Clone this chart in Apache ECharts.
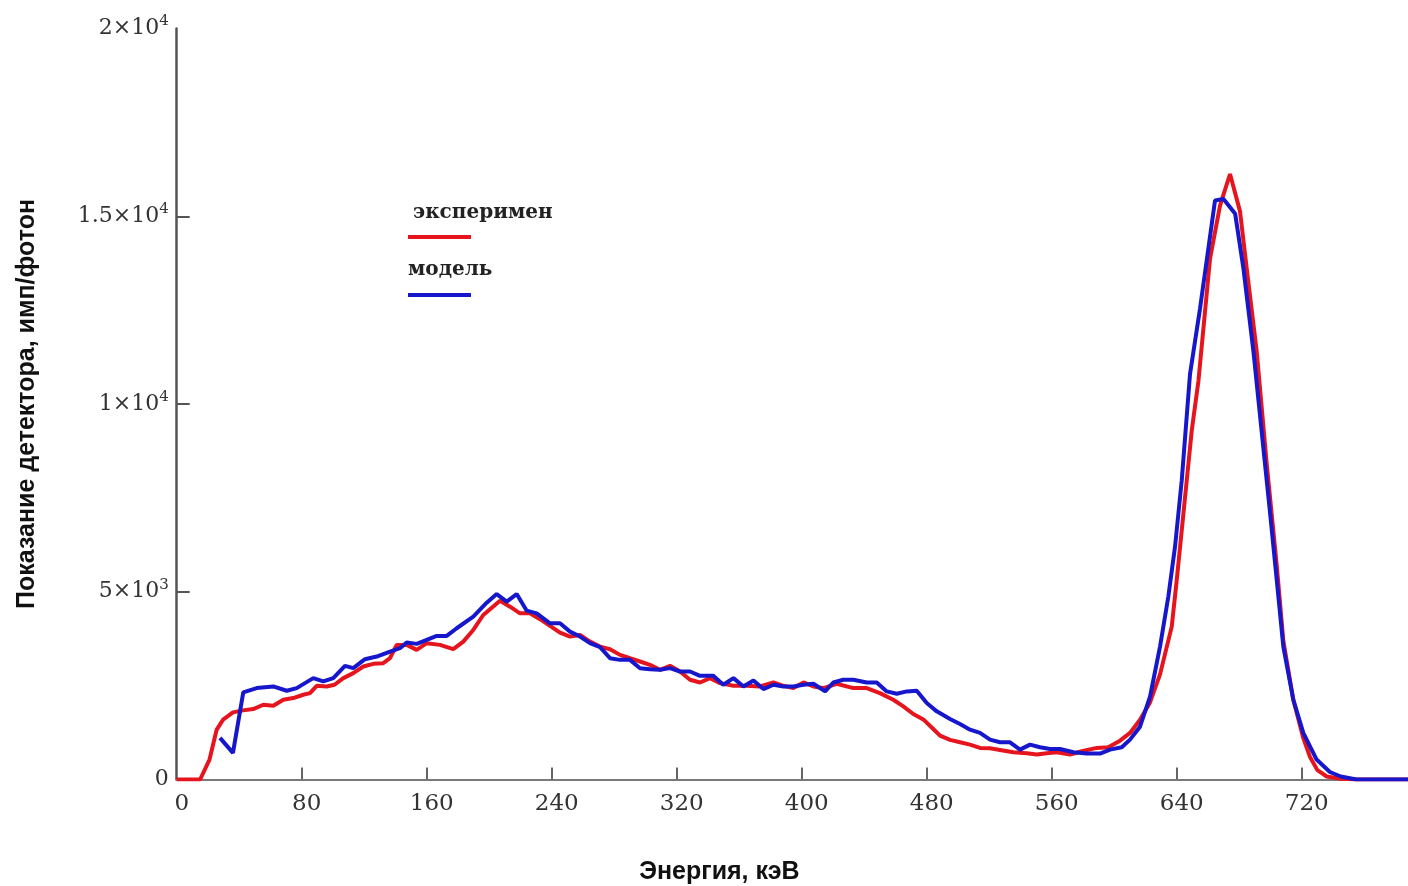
<!DOCTYPE html>
<html>
<head>
<meta charset="utf-8">
<script src="https://cdn.jsdelivr.net/npm/echarts@6/dist/echarts.min.js"></script>
<style>
html,body{margin:0;padding:0;background:#fff;}
#chart{width:1408px;height:886px;}
</style>
</head>
<body>
<div id="chart"></div>
<script>
// ---- data ----
const seriesNames = ['эксперимен', 'модель'];
const xTicks = [0, 80, 160, 240, 320, 400, 480, 560, 640, 720];
const yTicks = [0, 5000, 10000, 15000, 20000];
const yTickLabels = [['0', ''], ['5×10', '3'], ['1×10', '4'], ['1.5×10', '4'], ['2×10', '4']];

const energyExp = [0,15,21,25.6,29.7,36,42.4,49,55.4,61.8,68.2,74.6,81,85.3,89.6,96,101,106.6,113,119.4,125.8,132.2,136.5,140.8,147.2,153.6,160,168.5,177,183.4,189.8,196.2,206.9,213.3,219.7,226,232.5,238.9,245.3,251.7,258.1,264.5,270.9,277.3,283.7,290.1,296.5,302.9,309.3,315.7,322.1,328.5,334.9,341.3,347.7,356.3,364.8,373.3,381.9,388.3,394.7,401.1,407.5,413.9,422.4,433,441.6,450,458.6,465,471.4,477.8,484.2,488.5,494.9,501.3,507.7,514.1,520.5,526.9,535.4,544,550.4,556.8,563.2,571.7,579.2,588.8,596.2,603.7,610.1,616.5,622.9,629.3,636.8,640,643.2,646.4,649.6,653.9,661.3,667.7,674.1,680.5,684.8,691.2,697.6,704,708.2,714.6,721,725.3,730,736,745,755,788];
const countsExp = [0,0,531,1330,1593,1787,1841,1876,1990,1965,2124,2168,2257,2301,2496,2478,2523,2700,2833,3010,3080,3098,3230,3585,3585,3452,3630,3585,3470,3673,3983,4381,4761,4602,4425,4425,4270,4090,3912,3806,3850,3673,3540,3470,3319,3230,3142,3053,2921,3027,2876,2655,2584,2700,2567,2496,2496,2478,2584,2496,2434,2584,2478,2434,2549,2434,2434,2301,2124,1947,1745,1600,1346,1168,1054,992,929,841,832,788,726,699,664,699,726,664,752,841,858,1035,1240,1593,2053,2800,4071,5311,6639,7966,9294,10621,13869,15285,16125,15130,13604,11390,8400,5700,3700,2124,1100,600,250,80,20,0,0];

const energyMod = [27.7,36,42.6,51.2,61.8,70.4,76.8,87.4,93.8,100.2,107.7,113,120.5,128,136.5,142.9,147.2,153.6,160,166.4,172.8,179.2,189.8,198.4,204.8,211.2,217.6,224,230.4,238.9,245.3,251.7,258.1,264.5,270.9,277.3,283.7,290.1,296.5,302.9,309.3,315.7,322.1,328.5,334.9,343.4,349.8,356.3,362.7,369.1,375.5,381.9,388.3,394.7,401.1,407.5,415,420.2,426.6,433,441.6,448,454.4,460.8,467.2,473.6,480,486.4,494.9,501.3,507.7,514.1,520.5,526.9,533.3,539.7,546.1,552.5,558.9,565.3,573.9,582.4,590.9,597.3,604.8,610.1,616.5,622.9,629.3,634.6,638.9,643.2,648.5,654.9,664.5,669.9,677.4,682.7,689.1,695.5,699.8,704,708.2,714.6,721,729.5,738,745,755,788];
const countsMod = [1107,708,2319,2434,2478,2363,2434,2700,2611,2700,3027,2966,3204,3275,3408,3496,3647,3612,3718,3824,3824,4028,4337,4708,4939,4735,4939,4496,4425,4160,4160,3939,3806,3630,3523,3230,3186,3186,2965,2939,2921,2966,2876,2876,2761,2761,2523,2700,2478,2638,2408,2523,2478,2478,2523,2549,2346,2584,2655,2655,2584,2584,2346,2284,2346,2363,2036,1815,1611,1478,1328,1240,1062,991,991,796,929,858,814,814,726,690,690,796,858,1062,1407,2204,3540,4868,6196,7966,10800,12541,15418,15462,15064,13604,11390,8800,7072,5311,3540,2124,1240,531,200,80,0,0];

const colors = ['#e6141c', '#1616cc'];

function pairs(xs, ys) { return xs.map((x, i) => [x, ys[i]]); }

const chart = echarts.init(document.getElementById('chart'), null, { renderer: 'canvas' });

const serif = 'DejaVu Serif';
const option = {
  backgroundColor: '#ffffff',
  animation: false,
  grid: { left: 176.7, right: 0, top: 28.5, bottom: 106.5, containLabel: false, outerBoundsMode: 'none' },
  xAxis: {
    type: 'value',
    min: 0,
    max: 788,
    interval: 80,
    name: 'Энергия, кэВ',
    nameLocation: 'middle',
    nameGap: 80,
    nameTextStyle: { fontFamily: 'Liberation Sans', fontWeight: 'bold', fontSize: 25, color: '#111', padding: [0, 146, 0, 0] },
    axisLine: { show: true, onZero: false, lineStyle: { color: '#7a7a7a', width: 2 } },
    axisTick: { show: true, inside: true, length: 12, lineStyle: { color: '#666', width: 2 }, customValues: xTicks.slice(1) },
    axisLabel: {
      margin: 13,
      padding: [0, 0, 0, 10],
      fontFamily: serif, fontSize: 23, color: '#333',
      customValues: xTicks
    },
    splitLine: { show: false }
  },
  yAxis: {
    type: 'value',
    min: 0,
    max: 20000,
    interval: 5000,
    name: 'Показание детектора, имп/фотон',
    nameLocation: 'middle',
    nameRotate: 90,
    nameGap: 137,
    nameTextStyle: { fontFamily: 'Liberation Sans', fontWeight: 'bold', fontSize: 25, color: '#111' },
    axisLine: { show: true, lineStyle: { color: '#555', width: 2.5 } },
    axisTick: { show: true, inside: true, length: 13, lineStyle: { color: '#555', width: 2 }, customValues: yTicks.slice(1, 4) },
    axisLabel: {
      margin: 8,
      customValues: yTicks,
      formatter: function (v) {
        const idx = yTicks.indexOf(v);
        const lab = yTickLabels[idx];
        return lab[1] ? '{b|' + lab[0] + '}{s|' + lab[1] + '}' : '{b|' + lab[0] + '}';
      },
      rich: {
        b: { fontFamily: serif, fontSize: 22, color: '#333' },
        s: { fontFamily: serif, fontSize: 15, color: '#333', padding: [0, 0, 14, 0] }
      }
    },
    splitLine: { show: false }
  },
  series: [
    {
      name: seriesNames[0], type: 'line', data: pairs(energyExp, countsExp),
      showSymbol: false, lineStyle: { color: colors[0], width: 4 }, itemStyle: { color: colors[0] }, z: 2
    },
    {
      name: seriesNames[1], type: 'line', data: pairs(energyMod, countsMod),
      showSymbol: false, lineStyle: { color: colors[1], width: 4 }, itemStyle: { color: colors[1] }, z: 3
    }
  ],
  graphic: [
    { type: 'text', left: 413, top: 203, style: { text: seriesNames[0], font: 'bold 20px "DejaVu Serif"', fill: '#222' } },
    { type: 'line', shape: { x1: 408, y1: 237, x2: 471, y2: 237 }, style: { stroke: colors[0], lineWidth: 4 } },
    { type: 'text', left: 408, top: 260, style: { text: seriesNames[1], font: 'bold 20px "DejaVu Serif"', fill: '#222' } },
    { type: 'line', shape: { x1: 408, y1: 295, x2: 471, y2: 295 }, style: { stroke: colors[1], lineWidth: 4 } }
  ]
};
chart.setOption(option);
</script>
</body>
</html>
